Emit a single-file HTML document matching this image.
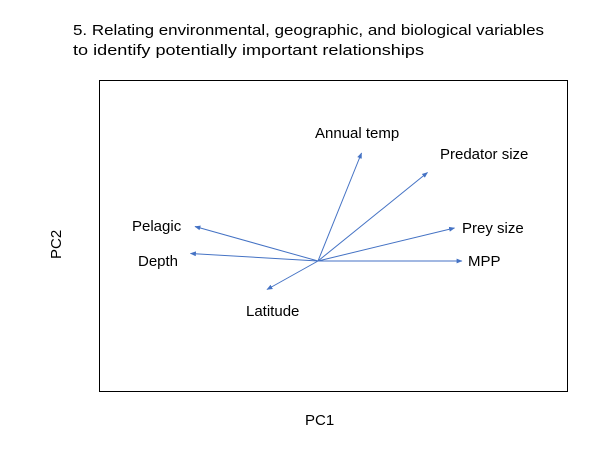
<!DOCTYPE html>
<html><head><meta charset="utf-8"><style>
body{margin:0;background:#fff;width:602px;height:455px;overflow:hidden;font-family:"Liberation Sans",sans-serif}
svg text{font-family:"Liberation Sans",sans-serif;font-size:15px;fill:#000}
</style></head><body>
<svg width="602" height="455">
<defs><marker id="ah" viewBox="0 0 10 10" refX="9" refY="5" markerWidth="6" markerHeight="6" orient="auto"><path d="M0,1 L10,5 L0,9 z" fill="#4472c4"/></marker></defs>
<text x="73" y="35" textLength="471" lengthAdjust="spacingAndGlyphs">5. Relating environmental, geographic, and biological variables</text>
<text x="73" y="55" textLength="351" lengthAdjust="spacingAndGlyphs">to identify potentially important relationships</text>
<rect x="99.5" y="80.5" width="468" height="311" fill="none" stroke="#000" stroke-width="1"/>
<text x="305" y="425">PC1</text>
<text x="0" y="0" transform="translate(61,259) rotate(-90)">PC2</text>
<g id="vecs"></g>
</svg>
<script>
const variables=["Annual temp","Predator size","Prey size","MPP","Pelagic","Depth","Latitude"];
const pc1=[0.29,0.73,0.91,0.96,-0.82,-0.85,-0.34];
const pc2=[0.72,0.59,0.22,0.0,0.23,0.05,-0.19];
const labelX=[315,440,462,468,132,138,246];
const labelY=[138,159,233,266,231,266,316];
const ox=318,oy=261,scale=150;
const xs=v=>ox+v*scale, ys=v=>oy-v*scale;
const g=document.getElementById('vecs');const NS='http://www.w3.org/2000/svg';
variables.forEach((n,i)=>{
 const l=document.createElementNS(NS,'line');
 
 
 l.setAttribute('x1',ox);l.setAttribute('y1',oy);l.setAttribute('x2',xs(pc1[i]));l.setAttribute('y2',ys(pc2[i]));
 l.setAttribute('stroke','#4472c4');l.setAttribute('stroke-width','1');l.setAttribute('marker-end','url(#ah)');
 g.appendChild(l);
 const t=document.createElementNS(NS,'text');
 
 
 t.setAttribute('x',labelX[i]);t.setAttribute('y',labelY[i]);t.textContent=n;g.appendChild(t);
});
</script>
</body></html>
